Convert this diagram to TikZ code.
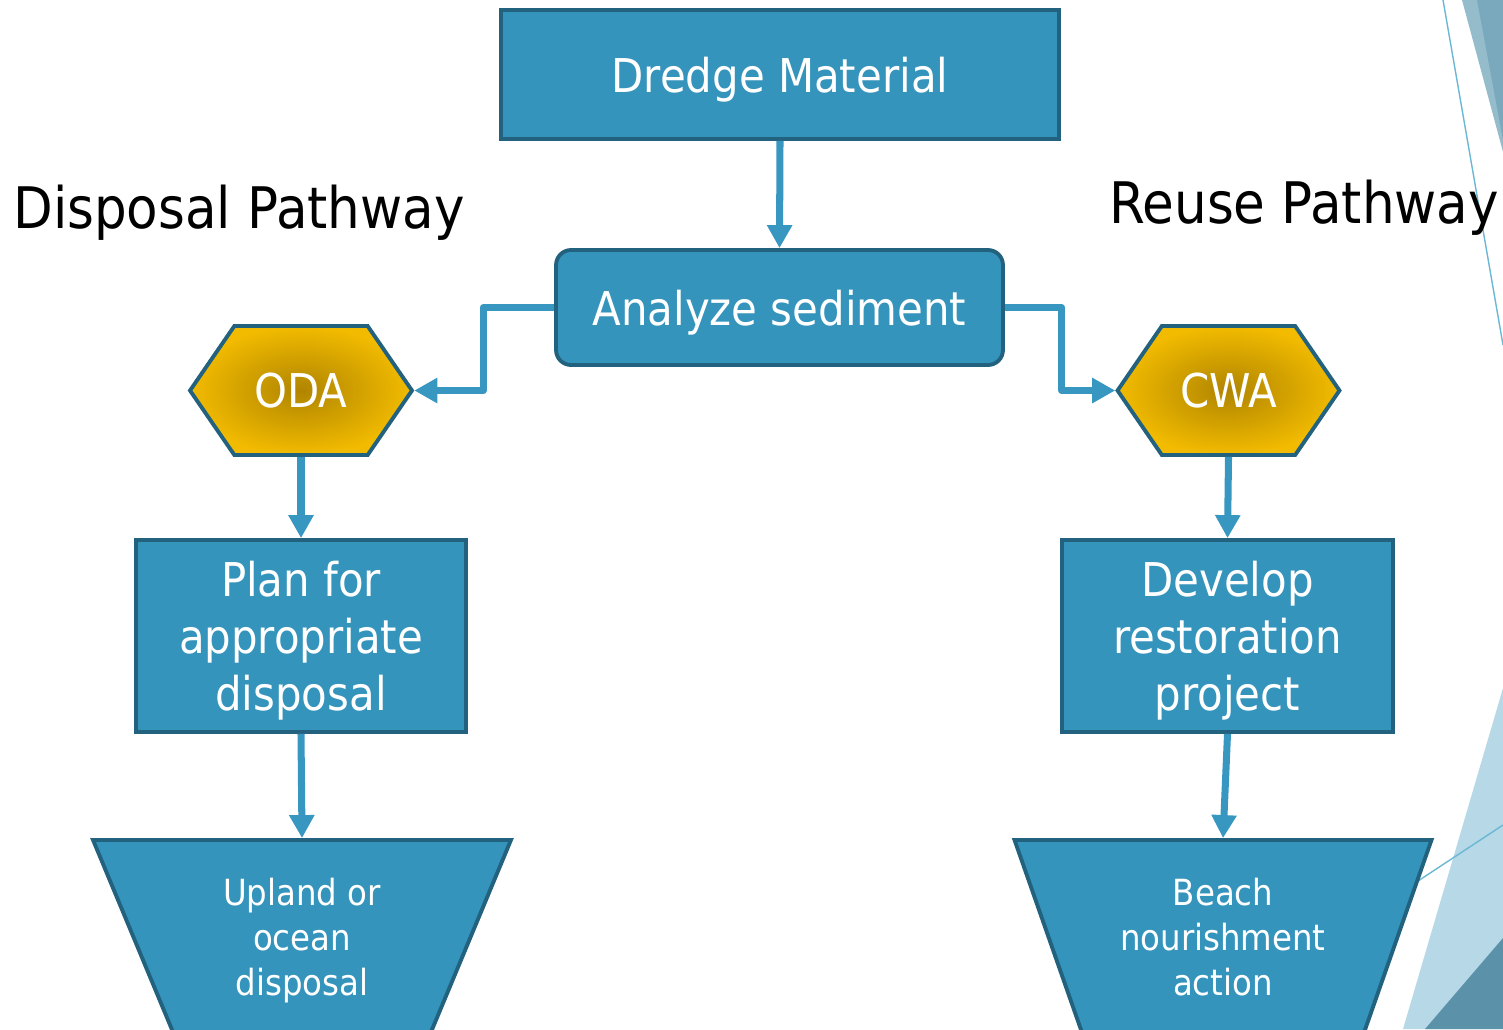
\documentclass[tikz,border=0pt]{standalone}
\usepackage{fontspec}
\setmainfont{DejaVu Sans Condensed}
\usetikzlibrary{arrows.meta,positioning,shapes.geometric,shapes.symbols}
\definecolor{boxblue}{HTML}{3594BC}
\definecolor{edgeblue}{HTML}{23627F}
\definecolor{flowblue}{HTML}{3797C1}
\definecolor{goldout}{HTML}{F2BB00}
\definecolor{goldin}{HTML}{B08500}
\definecolor{facetlight}{HTML}{B6D8E7}
\definecolor{facetmid}{HTML}{95BCCB}
\definecolor{facetdeep}{HTML}{7AA9BD}
\definecolor{facetdark}{HTML}{5B92AA}
\definecolor{facetline}{HTML}{6BB8D4}

\begin{document}
\begin{tikzpicture}[x=0.02cm,y=-0.02cm,>={Triangle[length=0.46cm,width=0.48cm]},
  stepbox/.style={draw=edgeblue,line width=2.2pt,fill=boxblue,text=white,align=center,inner sep=0pt,text depth=0pt},
  bigtext/.style={font=\fontsize{26.5pt}{32.3pt}\selectfont},
  smalltext/.style={font=\fontsize{20.5pt}{25.5pt}\selectfont},
  hexbox/.style={shape=signal,signal to=west and east,signal pointer angle=111,
    draw=edgeblue,line width=2.2pt,inner color=goldin,outer color=goldout,text=white,
    minimum width=4.44cm,minimum height=2.58cm,inner sep=0pt,bigtext},
  funnel/.style={stepbox,trapezium,trapezium stretches=true,shape border rotate=180,
    trapezium left angle=67,trapezium right angle=67,minimum width=8.36cm,minimum height=3.88cm,smalltext},
  flow/.style={->,flowblue,line width=4pt,line join=round},
  pathlabel/.style={font=\fontsize{32.6pt}{38pt}\selectfont,anchor=base west,inner sep=0pt}]
\useasboundingbox (0,0) rectangle (1503,1029);
% facets on the right edge
\fill[facetmid] (1462,0) -- (1503,0) -- (1503,152) -- cycle;
\fill[facetdeep] (1477,0) -- (1503,0) -- (1503,140) -- cycle;
\draw[facetline,line width=0.8pt] (1443,0) -- (1503,345);
\fill[facetlight] (1503,688) -- (1403,1029) -- (1503,1029) -- cycle;
\fill[facetdark] (1503,938) -- (1425,1029) -- (1503,1029) -- cycle;
\draw[facetline,line width=0.8pt] (1380,906) -- (1503,825);
% pathway titles
\node[pathlabel] (disptitle) at (13,228) {Disposal Pathway};
\node[pathlabel] (reusetitle) at (1109,223) {Reuse Pathway};
% flow chart
\node[stepbox,bigtext,minimum width=11.16cm,minimum height=2.58cm] (dredge) at (780,74.5) {Dredge Material};
\node[stepbox,bigtext,rounded corners=0.3cm,minimum width=8.94cm,minimum height=2.3cm] (analyze) at (779.5,307.5) {Analyze sediment};
\node[hexbox] (oda) at (301,390.5) {ODA};
\node[hexbox] (cwa) at (1228.5,390.5) {CWA};
\node[stepbox,bigtext,minimum width=6.6cm,minimum height=3.84cm] (plan) at (301,636) {Plan for\\appropriate\\disposal};
\node[stepbox,bigtext,minimum width=6.62cm,minimum height=3.84cm] (develop) at (1227.5,636) {Develop\\restoration\\project};
\node[funnel] (upland) at (302,937) {Upland or\\ocean\\disposal};
\node[funnel] (beach) at (1223,937) {Beach\\nourishment\\action};
\draw[flow] (dredge.south) -- (analyze.north);
\draw[flow] (analyze.west) -- ++(-71,0) |- (oda.east);
\draw[flow] (analyze.east) -- ++(57,0) |- (cwa.west);
\draw[flow] (oda.south) -- (plan.north);
\draw[flow] (cwa.south) -- (develop.north);
\draw[flow] (plan.south) -- (upland.north);
\draw[flow] (develop.south) -- (beach.north);
\end{tikzpicture}
\end{document}
